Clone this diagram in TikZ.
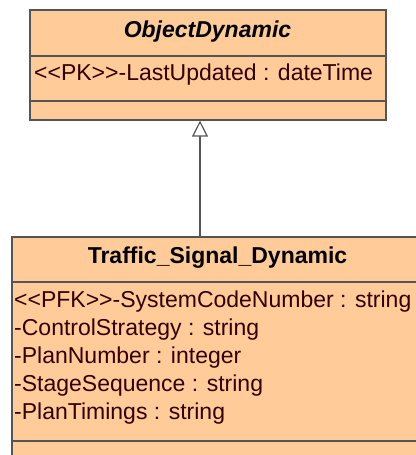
\documentclass[tikz,border=0pt]{standalone}
\usepackage{fontspec}
\setmainfont{Liberation Sans}[Ligatures=TeXOff]
\usetikzlibrary{arrows.meta}
\definecolor{classfill}{HTML}{FFCC99}
\definecolor{classline}{HTML}{555555}
\definecolor{attrtext}{HTML}{330000}

\begin{document}
\begin{tikzpicture}[x=1pt,y=-1pt,
	classbox/.style={draw=classline,fill=classfill,line width=1.2pt,rectangle,inner sep=0pt},
	divider/.style={draw=classline,line width=1.2pt},
	classname/.style={font=\fontsize{23}{27}\selectfont\bfseries,inner sep=0pt},
	attr/.style={font=\fontsize{23}{27}\selectfont,text=attrtext,anchor=west,inner sep=0pt}]
			\useasboundingbox (0,0) rectangle (415,455);
			\node [classbox,minimum width=356pt,minimum height=110pt] (od) at (208,65) {};
			\draw [divider] (30,56) -- (386,56) (30,101) -- (386,101);
			\node [classname,font=\fontsize{23}{27}\selectfont\bfseries\itshape] (odname) at (207.5,32) {ObjectDynamic};
			\node [attr] (odattr) at (34,75) {<<PK>>-LastUpdated : dateTime};
			\node [classbox,minimum width=411pt,minimum height=228pt] (tsd) at (217.5,351) {};
			\draw [divider] (12,282) -- (423,282) (12,441) -- (423,441);
			\node [classname] (tsdname) at (217.5,258) {Traffic\_Signal\_Dynamic};
			\node [attr] (a1) at (14,302) {<<PFK>>-SystemCodeNumber : string};
			\node [attr] (a2) at (14,330) {-ControlStrategy : string};
			\node [attr] (a3) at (14,358) {-PlanNumber : integer};
			\node [attr] (a4) at (14,386) {-StageSequence : string};
			\node [attr] (a5) at (14,414) {-PlanTimings : string};
			\coordinate (gen) at (200,0);
			\draw [classline,line width=1.2pt,-{Triangle[open,length=16pt,width=16pt,fill=white]}] (tsd.north -| gen) -- (od.south -| gen);
\end{tikzpicture}
\end{document}
